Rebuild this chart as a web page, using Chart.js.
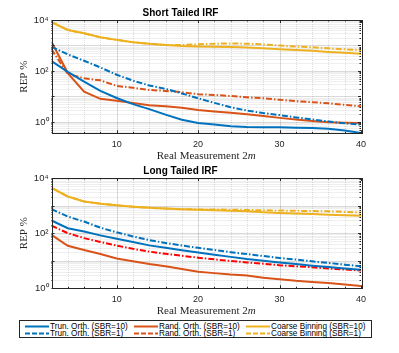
<!DOCTYPE html>
<html><head><meta charset="utf-8">
<script src="https://cdn.jsdelivr.net/npm/chart.js@4/dist/chart.umd.min.js"></script>
<style>
html,body{margin:0;padding:0;background:#fff;}
#wrap{position:relative;width:399px;height:353px;overflow:hidden;background:#fff;}
canvas{position:absolute;left:0;}
#c1{top:0;}
#c2{top:158px;}
#legend{position:absolute;left:19px;top:320px;width:353px;height:18px;border:1px solid #262626;box-sizing:border-box;font-family:"Liberation Sans",Arial,sans-serif;font-size:8.2px;color:#000;background:#fff;}
.it{position:absolute;height:7px;line-height:7px;white-space:nowrap;display:flex;align-items:center;}
.it svg{margin-right:1px;flex:none;}
</style></head>
<body><div id="wrap">
<canvas id="c1" width="399" height="162"></canvas>
<canvas id="c2" width="399" height="160"></canvas>
<div id="legend"></div>
</div>
<script>
const xs = [2,4,6,8,10,12,14,16,18,20,22,24,26,28,30,32,34,36,38,40];
const xTicks = [10,20,30,40];
const yTicks = [1,100,10000];
const seriesNames = ['Trun. Orth. (SBR=10)','Rand. Orth. (SBR=10)','Coarse Binning (SBR=10)','Trun. Orth. (SBR=1)','Rand. Orth. (SBR=1)','Coarse Binning (SBR=1)'];

// Short tailed IRF
const topTrun10  = [245,93,38,16.6,8.7,5.0,3.2,1.95,1.23,0.91,0.79,0.68,0.63,0.62,0.62,0.60,0.58,0.54,0.46,0.37];
const topTrun1   = [890,447,251,138,71,42,27,20,13.2,8.5,5.6,3.8,2.8,2.24,1.86,1.51,1.26,1.05,0.89,0.79];
const topRand10  = [1410,83,15.5,8.1,6.8,5.5,4.5,4.1,3.6,2.95,2.6,2.3,2.0,1.7,1.45,1.26,1.1,0.98,0.93,0.91];
const topRand1   = [708,76,52,43,26,22,18,16.6,14.8,12.3,11.5,10.5,9.3,8.5,7.4,6.6,6.0,5.4,4.7,4.1];
const topCoarse10= [8300,4070,3020,2090,1660,1350,1170,1050,955,912,891,871,832,776,708,661,617,562,525,479];
const topCoarse1 = [8300,4070,3020,2090,1660,1350,1170,1050,1050,1120,1175,1200,1175,1100,1000,912,851,776,708,661];

// Long tailed IRF
const botTrun10  = [288,151,115,83,63,48,36,29.5,24,20,16.6,13.8,11.5,10,8.7,7.6,6.6,5.9,5.2,4.7];
const botTrun1   = [741,398,263,158,107,76,56,44,35.5,29.5,24.5,20.4,17.4,14.8,12.6,11,9.5,8.3,7.2,6.3];
const botRand10  = [87,35,24.5,17.4,12,9.5,7.6,6.3,5.0,4.0,3.55,3.16,2.9,2.4,2.14,1.86,1.7,1.55,1.38,1.2];
const botRand1   = [186,100,66,48,35.5,27,21.4,17.8,15.1,12.9,11.2,9.8,8.7,7.8,6.9,6.3,5.8,5.2,4.8,4.4];
const botCoarse10= [4370,2140,1410,1175,1020,912,832,776,741,708,676,646,617,575,537,513,490,468,447,427];
const botCoarse1 = [4370,2140,1410,1175,1020,912,832,776,741,724,724,708,692,676,661,646,631,617,589,562];

const BLUE='#0072BD', ORANGE='#D95319', YELLOW='#EDB120', RED='#FF0000';
const DASH=[6,2,1.5,2];
const AX='#262626';
const SUP={'0':'\u2070','1':'\u00B9','2':'\u00B2','3':'\u00B3','4':'\u2074'};

const framePlugin = {
  id:'frame',
  beforeDatasetsDraw(chart){
    const {ctx, chartArea:a, scales:{x,y}} = chart;
    ctx.save();
    ctx.lineWidth=1;
    const lo=Math.floor(Math.log10(y.min)), hi=Math.ceil(Math.log10(y.max));
    for(let d=lo; d<=hi; d++){
      for(let k=1;k<=9;k++){
        const v=k*Math.pow(10,d);
        if(v<y.min*0.999||v>y.max*1.001) continue;
        const py=Math.round(y.getPixelForValue(v))+0.5;
        ctx.strokeStyle = k===1?'rgba(0,0,0,0.15)':'rgba(0,0,0,0.13)';
        ctx.setLineDash(k===1?[]:[1,1]);
        ctx.beginPath();ctx.moveTo(a.left,py);ctx.lineTo(a.right,py);ctx.stroke();
      }
    }
    for(let v=4; v<40; v+=2){
      const px=Math.round(x.getPixelForValue(v))+0.5;
      const major = v%10===0;
      ctx.strokeStyle = major?'rgba(0,0,0,0.15)':'rgba(0,0,0,0.13)';
      ctx.setLineDash(major?[]:[1,1]);
      ctx.beginPath();ctx.moveTo(px,a.top);ctx.lineTo(px,a.bottom);ctx.stroke();
    }
    ctx.restore();
  },
  afterDatasetsDraw(chart){
    const {ctx, chartArea:a, scales:{x,y}} = chart;
    ctx.save();
    ctx.strokeStyle=AX; ctx.lineWidth=1; ctx.setLineDash([]);
    ctx.beginPath();
    for(let v=2; v<=40; v+=2){
      const px=Math.round(x.getPixelForValue(v))+0.5;
      const L = v%10===0?3:1.5;
      ctx.moveTo(px,a.bottom);ctx.lineTo(px,a.bottom-L);
      ctx.moveTo(px,a.top);ctx.lineTo(px,a.top+L);
    }
    const lo=Math.floor(Math.log10(y.min)), hi=Math.ceil(Math.log10(y.max));
    for(let d=lo; d<=hi; d++){
      for(let k=1;k<=9;k++){
        const v=k*Math.pow(10,d);
        if(v<y.min||v>y.max*1.001) continue;
        const py=Math.round(y.getPixelForValue(v))+0.5;
        const L = k===1?3:1.5;
        ctx.moveTo(a.left,py);ctx.lineTo(a.left+L,py);
        ctx.moveTo(a.right,py);ctx.lineTo(a.right-L,py);
      }
    }
    ctx.stroke();
    ctx.strokeRect(Math.round(a.left)+0.5, Math.round(a.top)+0.5, Math.round(a.right-a.left), Math.round(a.bottom-a.top));
    const cx=(a.left+a.right)/2, ly=a.bottom+23;
    ctx.fillStyle='#262626'; ctx.textBaseline='middle';
    const f1='11px "Liberation Serif", "DejaVu Serif", serif';
    const f2='italic 11px "Liberation Serif", "DejaVu Serif", serif';
    ctx.font=f1; const w1=ctx.measureText('Real Measurement 2').width;
    ctx.font=f2; const w2=ctx.measureText('m').width;
    let sx=cx-(w1+w2)/2;
    ctx.font=f1; ctx.textAlign='left'; ctx.fillText('Real Measurement 2',sx,ly);
    ctx.font=f2; ctx.fillText('m',sx+w1,ly);
    ctx.save();
    ctx.translate(24,(a.top+a.bottom)/2);
    ctx.rotate(-Math.PI/2);
    ctx.font=f1; ctx.textAlign='center';
    ctx.fillText('REP %',0,0);
    ctx.restore();
    ctx.restore();
  }
};

function ds(label,data,color,dashed){
  return {label, data: xs.map((x,i)=>({x, y:data[i]})), borderColor:color, backgroundColor:color,
    borderWidth:2, pointRadius:0, tension:0, borderDash: dashed?DASH:[], fill:false};
}

function makeChart(id,title,s,yMin,yMax,rand1Color,xAxisH){
  return new Chart(document.getElementById(id),{
    type:'line',
    data:{datasets:[
      ds(seriesNames[0],s[0],BLUE,false),
      ds(seriesNames[3],s[1],BLUE,true),
      ds(seriesNames[1],s[2],ORANGE,false),
      ds(seriesNames[4],s[3],rand1Color,true),
      ds(seriesNames[2],s[4],YELLOW,false),
      ds(seriesNames[5],s[5],YELLOW,true)
    ]},
    options:{
      responsive:false, animation:false, devicePixelRatio:1,
      layout:{padding:{left:0,right:38,top:0,bottom:0}},
      plugins:{
        legend:{display:false}, tooltip:{enabled:false},
        title:{display:true,text:title,color:'#000',font:{family:'"Liberation Sans", Arial, sans-serif',size:10,weight:'bold'},padding:{top:7,bottom:1}}
      },
      scales:{
        x:{type:'linear',min:2,max:40,
          afterBuildTicks:(sc)=>{sc.ticks=xTicks.map(v=>({value:v}));},
          afterFit:(sc)=>{sc.height=xAxisH;},
          grid:{display:false,drawTicks:false}, border:{display:false},
          ticks:{autoSkip:false,maxRotation:0,padding:6,color:AX,font:{family:'"Liberation Sans", Arial, sans-serif',size:9},callback:(v)=>String(v)}
        },
        y:{type:'logarithmic',min:yMin,max:yMax,
          afterBuildTicks:(sc)=>{sc.ticks=yTicks.filter(v=>v>=yMin&&v<=yMax).map(v=>({value:v}));},
          afterFit:(sc)=>{sc.width=51.5;},
          grid:{display:false,drawTicks:false}, border:{display:false},
          ticks:{autoSkip:false,padding:3,color:AX,font:{family:'"Liberation Sans", Arial, sans-serif',size:9.5},
            callback:(v)=>'10'+SUP[String(Math.round(Math.log10(v)))]}
        }
      }
    },
    plugins:[framePlugin]
  });
}

makeChart('c1','Short Tailed IRF',[topTrun10,topTrun1,topRand10,topRand1,topCoarse10,topCoarse1],0.36,10000,ORANGE,28.7);
makeChart('c2','Long Tailed IRF',[botTrun10,botTrun1,botRand10,botRand1,botCoarse10,botCoarse1],1,10000,RED,29.7);

const legItems=[
  [0,BLUE,false,5,0],[1,ORANGE,false,114,0],[2,YELLOW,false,226,0],
  [3,BLUE,true,5,1],[4,ORANGE,true,114,1],[5,YELLOW,true,226,1]
];
const leg=document.getElementById('legend');
legItems.forEach(([i,c,d,l,r])=>{
  const el=document.createElement('div');
  el.className='it';
  el.style.left=l+'px'; el.style.top=(1.5+r*7)+'px';
  el.innerHTML='<svg width="24" height="7"><line x1="0" y1="3.5" x2="24" y2="3.5" stroke="'+c+'" stroke-width="2"'+(d?' stroke-dasharray="5,2"':'')+'/></svg><span>'+seriesNames[i]+'</span>';
  leg.appendChild(el);
});
</script>
</body></html>
